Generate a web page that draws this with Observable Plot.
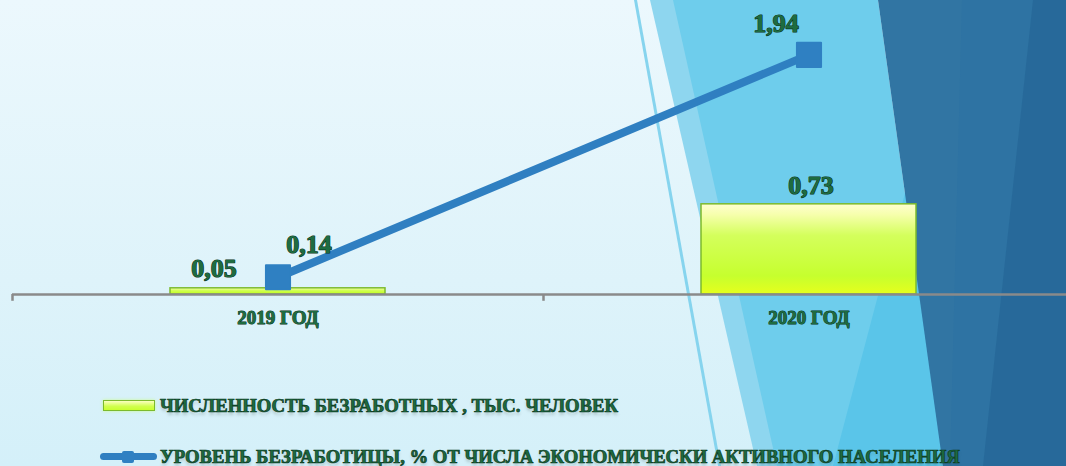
<!DOCTYPE html>
<html>
<head>
<meta charset="utf-8">
<script src="https://cdn.jsdelivr.net/npm/d3@7"></script>
<script src="https://cdn.jsdelivr.net/npm/@observablehq/plot@0.6"></script>
<style>
  html, body { margin: 0; padding: 0; }
  body { width: 1066px; height: 466px; overflow: hidden; }
  #wrap { position: relative; width: 1066px; height: 466px; overflow: hidden;
    background: linear-gradient(to bottom, #ecf8fd 0%, #def3fa 60%, #d4f0f9 100%); }
  .deco { position: absolute; left: 0; top: 0; width: 1066px; height: 466px; }
  #chart { position: absolute; left: 0; top: 0; }
  #chart svg { overflow: visible; }
  .legend { position: absolute; left: 0; top: 345px; width: 1066px; height: 121px; }
  .lg-text { position: absolute; left: 160px; white-space: nowrap;
    font-family: "Liberation Serif", "Times New Roman", serif; font-weight: bold; font-size: 18.7px;
    color: #1d6a40; -webkit-text-stroke: 0.7px #0b3a20; text-shadow: 0 3px 3px rgba(60,80,70,0.25); line-height: 22px; }
</style>
</head>
<body>
<div id="wrap">
  <div class="deco" style="background:#8ed6ef; clip-path: polygon(650px 0, 675px 0, 780px 466px, 757px 466px);"></div>
  <div class="deco" style="background:#6ecdec; clip-path: polygon(673px 0, 878px 0, 943px 466px, 777px 466px);"></div>
  <div class="deco" style="background:#5ac5e9; clip-path: polygon(956px 0, 1066px 0, 1066px 466px, 833px 466px);"></div>
  <div class="deco" style="background:#3175a3; clip-path: polygon(878px 0, 1066px 0, 1066px 466px, 943px 466px);"></div>
  <div class="deco" style="background:#2e73a3; clip-path: polygon(962px 0, 1033px 0, 983px 466px, 950px 466px);"></div>
  <div class="deco" style="background:#27699a; clip-path: polygon(1033px 0, 1066px 0, 1066px 466px, 983px 466px);"></div>
  <div class="deco" style="background:#86d4ee; clip-path: polygon(634px 0, 637px 0, 721px 466px, 718px 466px);"></div>
  <div id="chart"></div>
  <div class="legend" id="legend"></div>
</div>
<script>
// ---- data ----
const categories = ["2019 ГОД", "2020 ГОД"];
const unemployedThousands = [0.05, 0.73];
const unemploymentRate = [0.14, 1.94];
const seriesNames = [
  "ЧИСЛЕННОСТЬ БЕЗРАБОТНЫХ , ТЫС. ЧЕЛОВЕК",
  "УРОВЕНЬ БЕЗРАБОТИЦЫ, % ОТ ЧИСЛА ЭКОНОМИЧЕСКИ АКТИВНОГО НАСЕЛЕНИЯ"
];

const fmt = v => d3.format(".2f")(v).replace(".", ",");
const bars = categories.map((c, i) => ({cat: c, v: unemployedThousands[i]}));
const line = categories.map((c, i) => ({cat: c, v: unemploymentRate[i]}));

// label offsets (style)
const barLabelOffsets = [{dx: -64, dy: -20}, {dx: 2, dy: -19}];
const lineLabelOffsets = [{dx: 31, dy: -33}, {dx: -33, dy: -31}];

const font = '"Liberation Serif", "Times New Roman", serif';
const textStyle = {fill: "#1e6c41", stroke: "#0a3420", strokeWidth: 1.2, fontFamily: font, fontWeight: "bold"};

const defs = () => {
  const ns = "http://www.w3.org/2000/svg";
  const d = document.createElementNS(ns, "defs");
  d.innerHTML = `
    <linearGradient id="barGrad" x1="0" y1="0" x2="0" y2="1">
      <stop offset="0%" stop-color="#fffed0"/>
      <stop offset="12%" stop-color="#f6ffac"/>
      <stop offset="35%" stop-color="#d4ff5c"/>
      <stop offset="80%" stop-color="#c6ff2e"/>
      <stop offset="100%" stop-color="#e6ff1c"/>
    </linearGradient>`;
  return d;
};

const step = (1066 - 12 + 8) / categories.length;

const chart = Plot.plot({
  width: 1066,
  height: 345,
  marginLeft: 12,
  marginRight: -8,
  marginTop: 0,
  marginBottom: 51,
  x: {type: "band", domain: categories, padding: 0, axis: null},
  y: {domain: [0, 2.38], axis: null},
  style: {background: "transparent", overflow: "visible"},
  marks: [
    defs,
    Plot.barY(bars, {x: "cat", y: "v", fill: "url(#barGrad)", stroke: "#7cba2c", strokeWidth: 1.5,
      insetLeft: 158, insetRight: 158,
      style: "filter: drop-shadow(0 0 5px rgba(205,255,140,0.95));"}),
    Plot.ruleY([0], {stroke: "#8a8a8a", strokeWidth: 2.5}),
    Plot.ruleX(categories, {x: d => d, y1: 0, y2: -0.055, dx: -step / 2, stroke: "#8a8a8a", strokeWidth: 2.5}),
    Plot.line(line, {x: "cat", y: "v", stroke: "#2f7fc1", strokeWidth: 8,
      style: "filter: drop-shadow(0 -3px 5px rgba(238,255,170,1)) drop-shadow(0 0 4px rgba(232,255,175,0.9));"}),
    Plot.dot(line, {x: "cat", y: "v", symbol: "square", r: 13.6, fill: "#2f80c2", stroke: "#2f80c2",
      strokeWidth: 2, strokeLinejoin: "round"}),
    ...bars.map((b, i) => Plot.text([b], {x: "cat", y: "v", text: d => fmt(d.v),
      dx: barLabelOffsets[i].dx, dy: barLabelOffsets[i].dy, fontSize: 26, ...textStyle,
      style: "filter: drop-shadow(0 4px 3px rgba(60,80,70,0.3));"})),
    ...line.map((b, i) => Plot.text([b], {x: "cat", y: "v", text: d => fmt(d.v),
      dx: lineLabelOffsets[i].dx, dy: lineLabelOffsets[i].dy, fontSize: 26, ...textStyle,
      style: "filter: drop-shadow(0 4px 3px rgba(60,80,70,0.3));"})),
    Plot.text(categories, {x: d => d, y: 0, text: d => d, dy: 23, fontSize: 19, ...textStyle, strokeWidth: 1,
      style: "filter: drop-shadow(0 4px 3px rgba(60,80,70,0.3));"})
  ]
});
document.getElementById("chart").appendChild(chart);

// legend
const lg = document.getElementById("legend");
lg.innerHTML = `
  <div style="position:absolute; left:103px; top:${400-345}px; width:50px; height:9px; border:1.5px solid #7cba2c;
     background: linear-gradient(to bottom, #fbffc0, #d0ff4c 60%, #c8ff30); box-shadow: 0 0 3px rgba(200,255,120,0.8);"></div>
  <div class="lg-text" style="top:${395-345}px">${seriesNames[0]}</div>
  <div style="position:absolute; left:100px; top:${453-345}px; width:57px; height:7px; border-radius:4px; background:#2f7fc1;"></div>
  <div style="position:absolute; left:122px; top:${451-345}px; width:12px; height:12px; border-radius:2px; background:#2f80c2;"></div>
  <div class="lg-text" style="top:${446-345}px">${seriesNames[1]}</div>
`;
</script>
</body>
</html>
